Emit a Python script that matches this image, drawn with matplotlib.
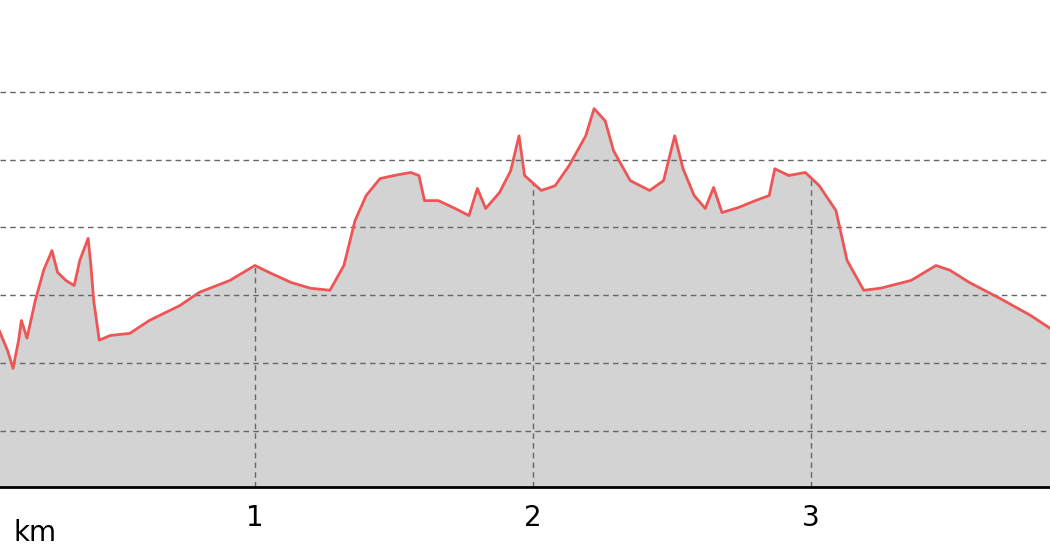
import matplotlib
matplotlib.use("Agg")
import matplotlib.pyplot as plt
import numpy as np

km = [0.08,0.11,0.13,0.15,0.16,0.18,0.21,0.23,0.24,0.27,0.29,0.32,0.35,0.37,0.40,0.41,0.42,0.44,0.48,0.55,0.62,0.73,0.80,0.91,1.00,1.05,1.13,1.20,1.27,1.32,1.36,1.40,1.45,1.50,1.56,1.59,1.61,1.66,1.72,1.77,1.80,1.83,1.88,1.92,1.95,1.97,2.03,2.08,2.13,2.19,2.22,2.26,2.29,2.35,2.42,2.47,2.51,2.54,2.58,2.62,2.65,2.68,2.74,2.80,2.85,2.87,2.92,2.98,3.03,3.09,3.13,3.19,3.25,3.36,3.45,3.50,3.57,3.68,3.79,3.86]
elev = [229.7,223.8,218.5,226.8,232.6,227.4,238.5,244.4,247.4,253.2,246.8,244.4,242.9,250.3,256.8,248.8,238.5,226.8,228.2,228.8,232.6,237.0,240.9,244.4,248.8,246.8,243.8,242.1,241.5,248.8,262.0,269.4,274.4,275.3,276.2,275.3,267.9,267.9,265.6,263.5,271.5,265.6,270.3,276.7,287.0,275.3,270.9,272.3,278.2,287.0,295.0,291.4,282.6,273.8,270.9,273.8,287.0,277.3,269.4,265.6,271.8,264.4,265.9,267.9,269.4,277.3,275.3,276.2,272.3,265.0,250.3,241.5,242.1,244.4,248.8,247.4,243.8,239.1,234.1,230.3]
xticks = [1, 2, 3]
ygrid = [200, 220, 240, 260, 280, 300]

fig = plt.figure(figsize=(10.5, 5.6), dpi=100)
ax = fig.add_axes([0, 0.130, 1, 0.870])
base = 183.5
ax.set_xlim(0.083, 3.86)
ax.set_ylim(base, 327)
ax.fill_between(km, elev, base, color="#d3d3d3", zorder=1)
for g in ygrid:
    ax.axhline(g, color="#666666", ls=(0, (4, 3)), lw=1, zorder=2)
for t in xticks:
    ax.vlines(t, base, np.interp(t, km, elev), color="#666666", ls=(0, (4, 3)), lw=1, zorder=2)
ax.plot(km, elev, color="#ee5555", lw=2, zorder=3)
for s in ["top", "left", "right"]:
    ax.spines[s].set_visible(False)
ax.spines["bottom"].set_linewidth(2)
ax.set_yticks([])
ax.set_xticks(xticks)
ax.set_xticklabels([str(t) for t in xticks], fontsize=20)
ax.tick_params(axis="x", length=0, pad=12)
ax.text(0.21, -0.094, "km", transform=ax.get_xaxis_transform(), fontsize=20, ha="center", va="center")
fig.savefig("out.png", dpi=100)
